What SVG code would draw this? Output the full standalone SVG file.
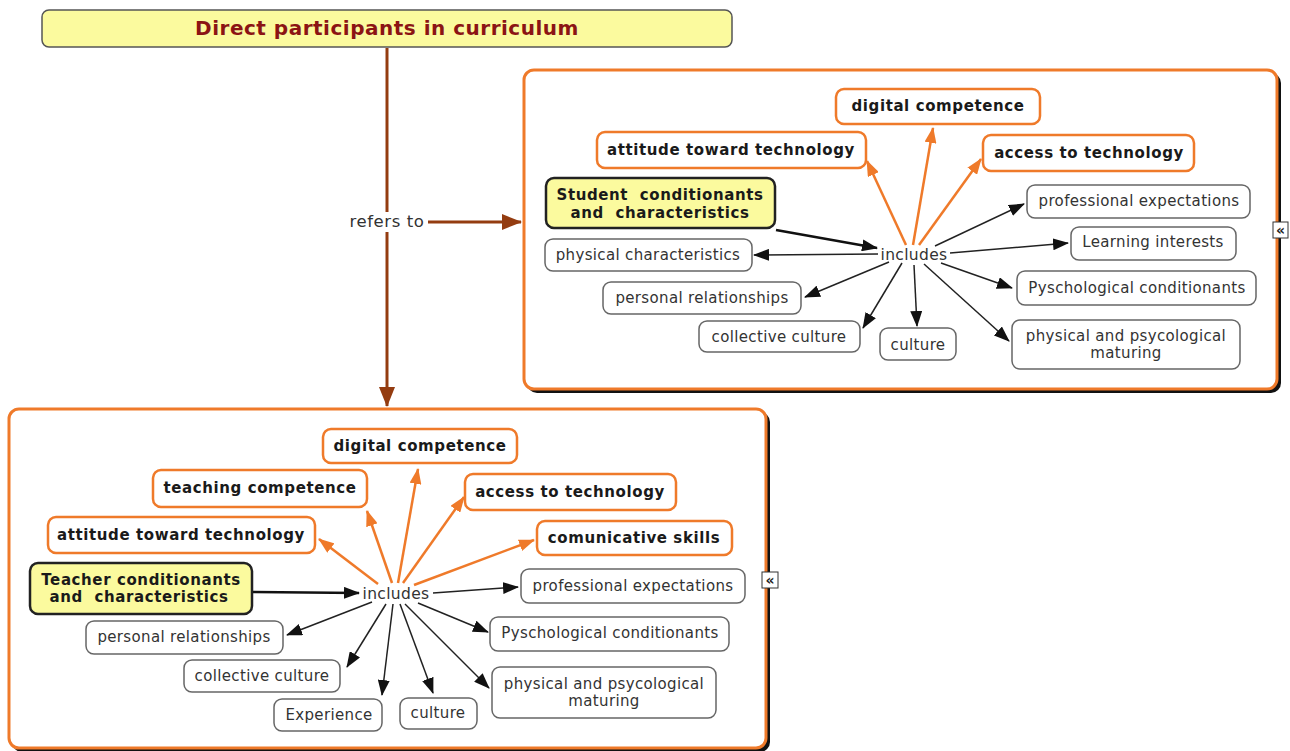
<svg xmlns="http://www.w3.org/2000/svg" width="1290" height="751" viewBox="0 0 1290 751">
<defs>
<style>
.t{font-family:"DejaVu Sans",Verdana,sans-serif;font-size:15px;letter-spacing:0.35px;fill:#333;text-anchor:middle}
.b{font-family:"DejaVu Sans",Verdana,sans-serif;font-size:15px;letter-spacing:0.6px;font-weight:bold;fill:#1a1a1a;text-anchor:middle}
.pre{white-space:pre}
.n{fill:#fff;stroke:#666;stroke-width:1.5}
.o{fill:#fff;stroke:#ef7a2a;stroke-width:2.5}
.y{fill:#fbfa9e;stroke:#222;stroke-width:2.5}
.panel{fill:#fff;stroke:#ef7a2a;stroke-width:3}
.shadow{fill:#111}
.k{stroke:#222;stroke-width:1.5;fill:none;marker-end:url(#ak)}
.kk{stroke:#111;stroke-width:2.5;fill:none;marker-end:url(#ak)}
.or{stroke:#ef7a2a;stroke-width:2.5;fill:none;marker-end:url(#ao)}
.br{stroke:#943c10;stroke-width:3;fill:none}
</style>
<marker id="ak" markerUnits="userSpaceOnUse" markerWidth="16" markerHeight="12" refX="15" refY="6" orient="auto"><path d="M0,0 L16,6 L0,12 Z" fill="#111"/></marker>
<marker id="ao" markerUnits="userSpaceOnUse" markerWidth="16" markerHeight="12" refX="15" refY="6" orient="auto"><path d="M0,0 L16,6 L0,12 Z" fill="#ef7a2a"/></marker>
<marker id="ab" markerUnits="userSpaceOnUse" markerWidth="20" markerHeight="16" refX="19" refY="8" orient="auto"><path d="M0,0 L20,8 L0,16 Z" fill="#943c10"/></marker>
</defs>
<rect width="1290" height="751" fill="#fff"/>

<g id="panel-students">
<rect class="shadow" x="527" y="73" width="754" height="320" rx="10"/>
<rect class="panel" x="524" y="70" width="753" height="319" rx="10"/>
</g>
<g id="panel-teachers">
<rect class="shadow" x="12" y="412" width="758" height="340" rx="10"/>
<rect class="panel" x="9" y="409" width="757" height="339" rx="10"/>
</g>

<g id="connectors">
<line class="br" x1="387" y1="48" x2="387" y2="212"/>
<line class="br" x1="387" y1="232" x2="387" y2="406" marker-end="url(#ab)"/>
<line class="br" x1="428" y1="222" x2="521" y2="222" marker-end="url(#ab)"/>
<!-- right panel -->
<line class="kk" x1="776" y1="230" x2="877" y2="248"/>
<line class="k" x1="878" y1="254" x2="754" y2="255"/>
<line class="k" x1="889" y1="262" x2="805" y2="297"/>
<line class="k" x1="902" y1="263" x2="863" y2="328"/>
<line class="k" x1="914" y1="265" x2="917" y2="326"/>
<line class="k" x1="935" y1="246" x2="1024" y2="204"/>
<line class="k" x1="950" y1="253" x2="1068" y2="243"/>
<line class="k" x1="941" y1="263" x2="1012" y2="288"/>
<line class="k" x1="924" y1="264" x2="1009" y2="341"/>
<line class="or" x1="906" y1="245" x2="867" y2="161"/>
<line class="or" x1="913" y1="245" x2="933" y2="128"/>
<line class="or" x1="919" y1="245" x2="981" y2="159"/>
<!-- bottom panel -->
<line class="kk" x1="253" y1="592" x2="359" y2="593"/>
<line class="or" x1="378" y1="584" x2="319" y2="539"/>
<line class="or" x1="392" y1="583" x2="367" y2="511"/>
<line class="or" x1="398" y1="583" x2="418" y2="469"/>
<line class="or" x1="403" y1="583" x2="464" y2="497"/>
<line class="or" x1="414" y1="585" x2="534" y2="540"/>
<line class="k" x1="433" y1="593" x2="518" y2="587"/>
<line class="k" x1="372" y1="602" x2="287" y2="635"/>
<line class="k" x1="386" y1="604" x2="347" y2="667"/>
<line class="k" x1="393" y1="604" x2="382" y2="695"/>
<line class="k" x1="400" y1="604" x2="433" y2="693"/>
<line class="k" x1="405" y1="604" x2="489" y2="688"/>
<line class="k" x1="418" y1="603" x2="488" y2="632"/>
</g>

<g id="title">
<rect x="42" y="10" width="690" height="37" rx="7" fill="#fbfa9e" stroke="#555" stroke-width="1.5"/>
<text x="387" y="35" style="font-family:'DejaVu Sans',Verdana,sans-serif;font-size:20px;letter-spacing:0.5px;font-weight:bold;fill:#8b1414;text-anchor:middle">Direct participants in curriculum</text>
</g>
<g id="refers-to"><text class="t" x="387" y="227" style="font-size:16.5px;letter-spacing:0.6px">refers to</text></g>

<g id="s-includes"><text class="t" x="914" y="260" style="font-size:15.5px">includes</text></g>
<g id="s-digital"><rect class="o" x="836" y="89" width="204" height="35" rx="8"/><text class="b" x="938" y="111">digital competence</text></g>
<g id="s-attitude"><rect class="o" x="597" y="132" width="269" height="36" rx="8"/><text class="b" x="731" y="155">attitude toward technology</text></g>
<g id="s-access"><rect class="o" x="983" y="135" width="211" height="36" rx="8"/><text class="b" x="1089" y="158">access to technology</text></g>
<g id="s-student"><rect class="y" x="546" y="178" width="229" height="50" rx="8"/><text class="b pre" x="660" y="200">Student  conditionants</text><text class="b pre" x="660" y="218">and  characteristics</text></g>
<g id="s-physchar"><rect class="n" x="545" y="239" width="207" height="32" rx="8"/><text class="t" x="648" y="260">physical characteristics</text></g>
<g id="s-personal"><rect class="n" x="603" y="282" width="198" height="32" rx="8"/><text class="t" x="702" y="303">personal relationships</text></g>
<g id="s-collective"><rect class="n" x="699" y="321" width="161" height="31" rx="8"/><text class="t" x="779" y="342">collective culture</text></g>
<g id="s-culture"><rect class="n" x="880" y="328" width="76" height="32" rx="8"/><text class="t" x="918" y="350">culture</text></g>
<g id="s-professional"><rect class="n" x="1027" y="185" width="223" height="33" rx="8"/><text class="t" x="1139" y="206">professional expectations</text></g>
<g id="s-learning"><rect class="n" x="1071" y="227" width="165" height="33" rx="8"/><text class="t" x="1153" y="247">Learning interests</text></g>
<g id="s-psych"><rect class="n" x="1017" y="271" width="239" height="34" rx="8"/><text class="t" x="1137" y="293">Pyschological conditionants</text></g>
<g id="s-maturing"><rect class="n" x="1012" y="320" width="228" height="49" rx="8"/><text class="t" x="1126" y="341">physical and psycological</text><text class="t" x="1126" y="358">maturing</text></g>
<g id="s-collapse"><rect x="1273" y="222" width="15" height="16" fill="#fff" stroke="#333" stroke-width="1"/><text x="1280.5" y="235" style="font-family:'DejaVu Sans',sans-serif;font-size:14px;font-weight:bold;fill:#222;text-anchor:middle">«</text></g>

<g id="t-includes"><text class="t" x="396" y="599" style="font-size:15.5px">includes</text></g>
<g id="t-digital"><rect class="o" x="323" y="429" width="194" height="34" rx="8"/><text class="b" x="420" y="451">digital competence</text></g>
<g id="t-teaching"><rect class="o" x="153" y="470" width="214" height="37" rx="8"/><text class="b" x="260" y="493">teaching competence</text></g>
<g id="t-access"><rect class="o" x="465" y="474" width="211" height="36" rx="8"/><text class="b" x="570" y="497">access to technology</text></g>
<g id="t-attitude"><rect class="o" x="48" y="517" width="267" height="36" rx="8"/><text class="b" x="181" y="540">attitude toward technology</text></g>
<g id="t-comunicative"><rect class="o" x="537" y="521" width="195" height="34" rx="8"/><text class="b" x="634" y="543">comunicative skills</text></g>
<g id="t-teacher"><rect class="y" x="30" y="563" width="222" height="51" rx="8"/><text class="b pre" x="141" y="585">Teacher conditionants</text><text class="b pre" x="139" y="602">and  characteristics</text></g>
<g id="t-professional"><rect class="n" x="521" y="569" width="224" height="34" rx="8"/><text class="t" x="633" y="591">professional expectations</text></g>
<g id="t-personal"><rect class="n" x="86" y="621" width="197" height="33" rx="8"/><text class="t" x="184" y="642">personal relationships</text></g>
<g id="t-psych"><rect class="n" x="490" y="617" width="239" height="34" rx="8"/><text class="t" x="610" y="638">Pyschological conditionants</text></g>
<g id="t-collective"><rect class="n" x="184" y="660" width="156" height="32" rx="8"/><text class="t" x="262" y="681">collective culture</text></g>
<g id="t-maturing"><rect class="n" x="492" y="667" width="224" height="51" rx="8"/><text class="t" x="604" y="689">physical and psycological</text><text class="t" x="604" y="706">maturing</text></g>
<g id="t-experience"><rect class="n" x="274" y="699" width="108" height="32" rx="8"/><text class="t" x="329" y="720">Experience</text></g>
<g id="t-culture"><rect class="n" x="400" y="698" width="77" height="31" rx="8"/><text class="t" x="438" y="718">culture</text></g>
<g id="t-collapse"><rect x="762" y="572" width="16" height="16" fill="#fff" stroke="#333" stroke-width="1"/><text x="770" y="585" style="font-family:'DejaVu Sans',sans-serif;font-size:14px;font-weight:bold;fill:#222;text-anchor:middle">«</text></g>
</svg>
